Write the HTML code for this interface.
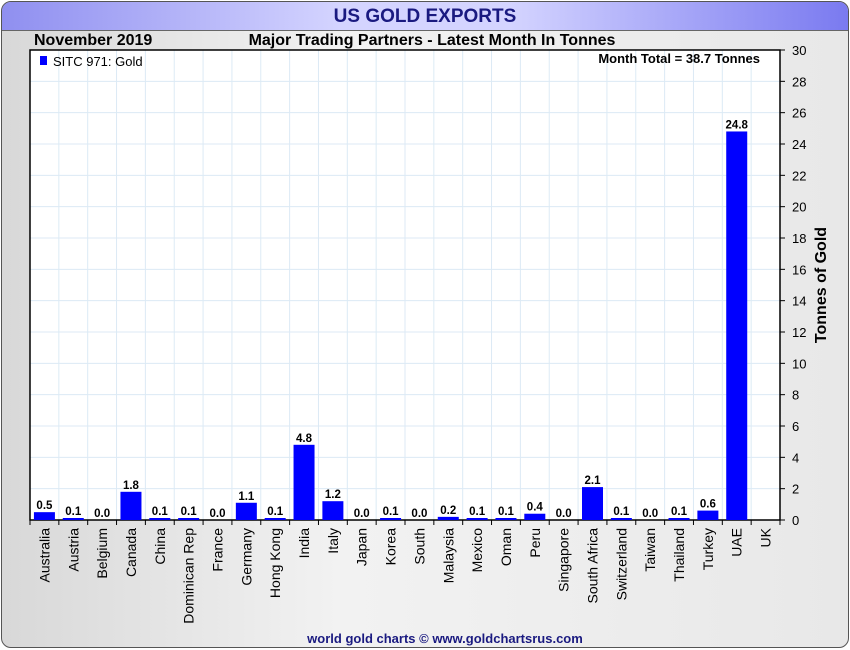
<!DOCTYPE html>
<html><head><meta charset="utf-8"><style>
body{margin:0;width:850px;height:650px;overflow:hidden;background:#fff;font-family:"Liberation Sans",Arial,sans-serif}
#frame{position:absolute;left:1px;top:1px;width:846px;height:645px;border:1px solid #555;border-radius:10px;background:linear-gradient(90deg,#d8d8d8,#f2f2f2 40%,#e8e8e8);overflow:hidden}
#titlebar{position:absolute;left:0;top:0;width:846px;height:28px;background:linear-gradient(90deg,#8f8ff0,#d4d4ff 40%,#d4d4ff 60%,#7a7af0);border-bottom:1px solid #666;text-align:center;font:bold 19px "Liberation Sans",sans-serif;color:#1a1a80;line-height:29px}
</style></head><body>
<div id="frame">
<div id="titlebar">US GOLD EXPORTS</div>
</div>
<svg id="chart" width="850" height="650" style="position:absolute;left:0;top:0"></svg>
<script>
const categories=["Australia","Austria","Belgium","Canada","China","Dominican Rep","France","Germany","Hong Kong","India","Italy","Japan","Korea","South","Malaysia","Mexico","Oman","Peru","Singapore","South Africa","Switzerland","Taiwan","Thailand","Turkey","UAE","UK"];
const values=[0.5,0.1,0.0,1.8,0.1,0.1,0.0,1.1,0.1,4.8,1.2,0.0,0.1,0.0,0.2,0.1,0.1,0.4,0.0,2.1,0.1,0.0,0.1,0.6,24.8,null];
const yTicks=[0,2,4,6,8,10,12,14,16,18,20,22,24,26,28,30];
const NS="http://www.w3.org/2000/svg";
const svg=document.getElementById('chart');
const L=30,R=780,T=50,B=520,yMax=30;
const bw=(R-L)/categories.length;
const x=i=>L+bw*i;
const y=v=>B-(v/yMax)*(B-T);
function mk(tag,a,txt){const e=document.createElementNS(NS,tag);for(const k in a)e.setAttribute(k,a[k]);if(txt!==undefined)e.textContent=txt;svg.appendChild(e);return e;}
let e;
e=mk('rect',{x:L,y:T,width:R-L,height:B-T,fill:'#fff'});


yTicks.forEach(v=>{if(v>0&&v<yMax){e=mk('line',{x1:L,x2:R,y1:y(v),y2:y(v),stroke:'#dceaf5','stroke-width':1});

}});
for(let i=1;i<categories.length;i++){const gx=x(i);e=mk('line',{x1:gx,x2:gx,y1:T,y2:B,stroke:'#dceaf5','stroke-width':1});

}
e=mk('rect',{x:L,y:T,width:R-L,height:B-T,fill:'none',stroke:'#000','stroke-width':1.5});


yTicks.forEach(v=>{
e=mk('line',{x1:R,x2:R+5,y1:y(v),y2:y(v),stroke:'#000'});


e=mk('text',{x:R+12,y:y(v)+5,'font-size':13,fill:'#000'},v);


});
e=mk('text',{x:826,y:285,'font-size':16,'font-weight':'bold','text-anchor':'middle',transform:'rotate(-90 826 285)'},'Tonnes of Gold');


categories.forEach((c,i)=>{
const cx=x(i)+bw/2;
e=mk('line',{x1:x(i),x2:x(i),y1:B,y2:B+5,stroke:'#000'});


const v=values[i];
if(v!==null){
const h=Math.max(B-y(v),v>0?2:0);
e=mk('rect',{x:cx-10.5,y:B-h,width:21,height:h,fill:'#0000ff'});


e=mk('text',{x:cx,y:B-h-3,'font-size':11.5,'font-weight':'bold','text-anchor':'middle'},v.toFixed(1));


}
e=mk('text',{x:cx+5,y:B+8,'font-size':14,'text-anchor':'end',transform:`rotate(-90 ${cx+5} ${B+8})`},c);


});
e=mk('line',{x1:R,x2:R,y1:B,y2:B+5,stroke:'#000'});


e=mk('text',{x:34,y:45,'font-size':16,'font-weight':'bold'},'November 2019');


e=mk('text',{x:432,y:45,'font-size':16,'font-weight':'bold','text-anchor':'middle'},'Major Trading Partners - Latest Month In Tonnes');


e=mk('rect',{x:40,y:56,width:7,height:9,fill:'#0000ff'});


e=mk('text',{x:53,y:66,'font-size':13},'SITC 971: Gold');


e=mk('text',{x:760,y:63,'font-size':13,'font-weight':'bold','text-anchor':'end'},'Month Total = 38.7 Tonnes');


e=mk('text',{x:445,y:643,'font-size':13,'font-weight':'bold','text-anchor':'middle',fill:'#1a1a80'},'world gold charts © www.goldchartsrus.com');


</script>
</body></html>
